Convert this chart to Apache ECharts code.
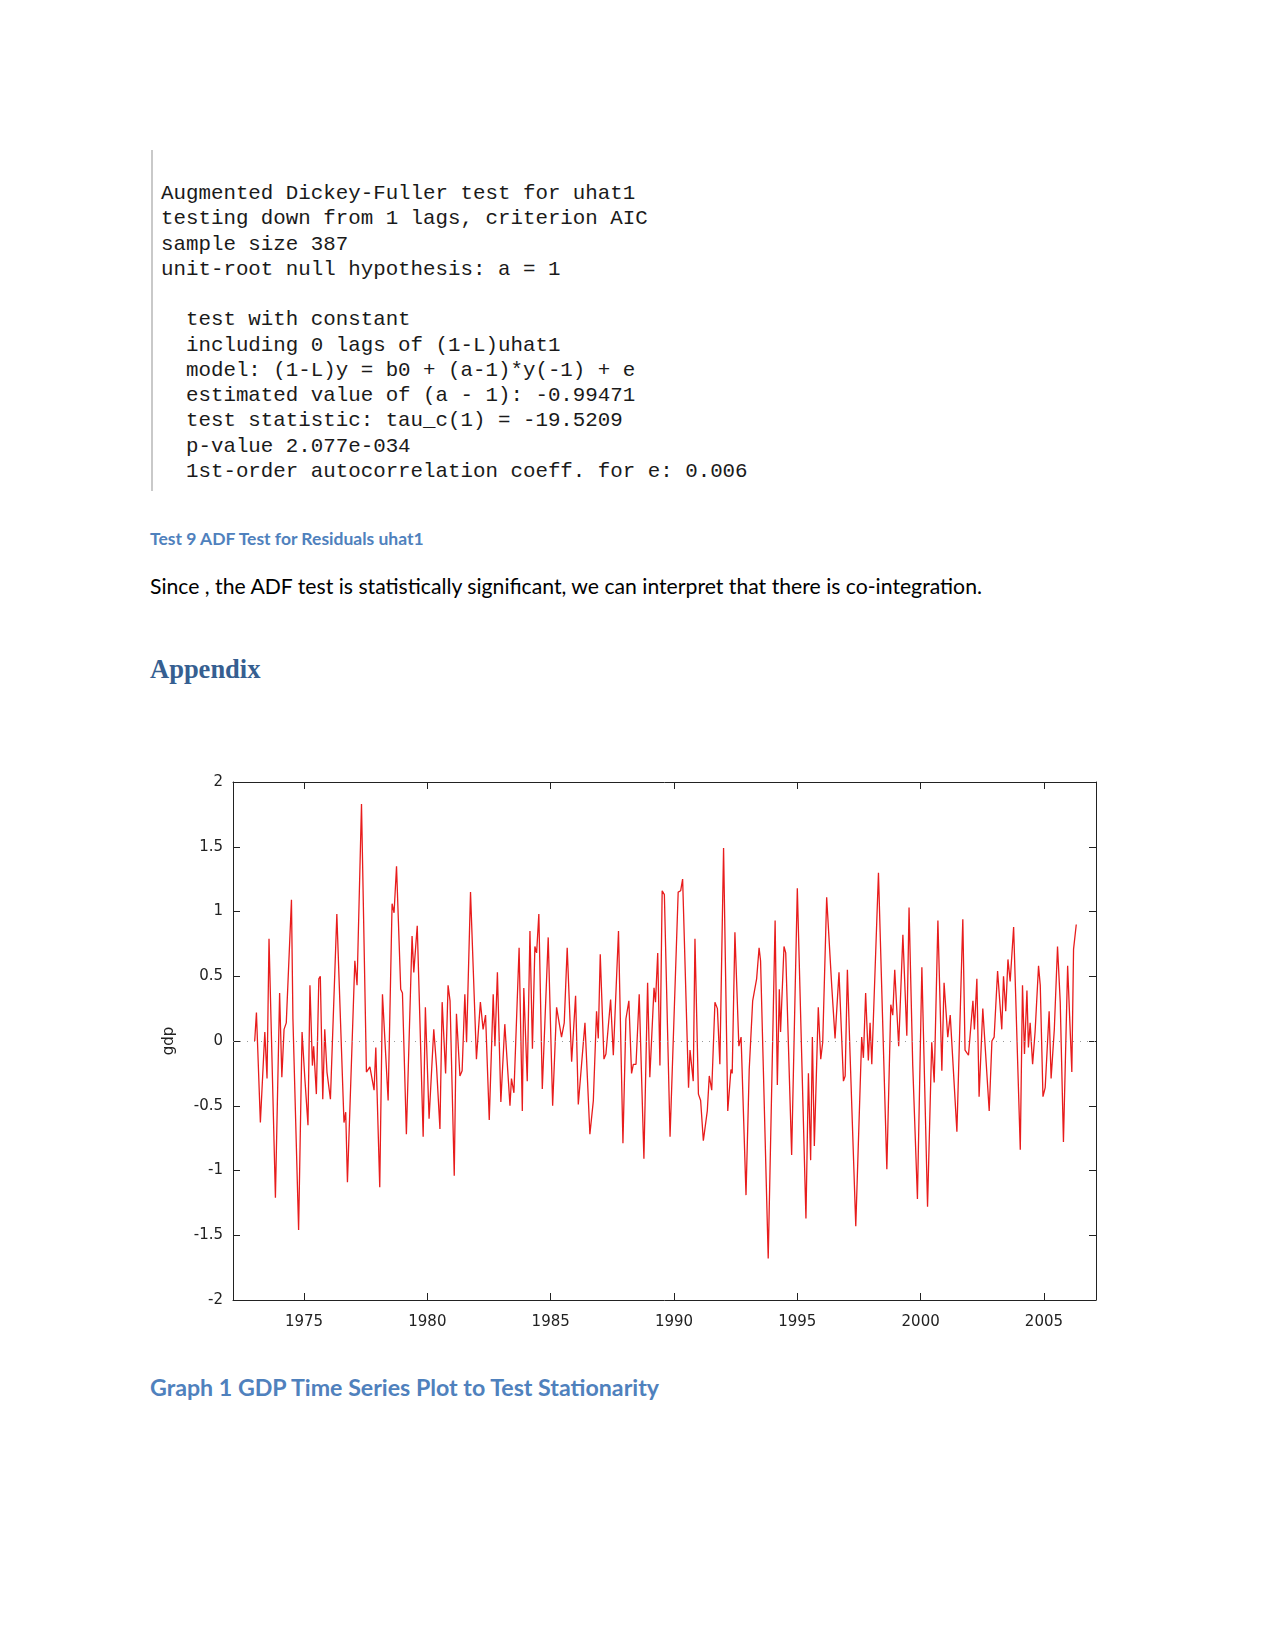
<!DOCTYPE html>
<html><head><meta charset="utf-8">
<script src="https://cdn.jsdelivr.net/npm/echarts@6/dist/echarts.min.js"></script>
<style>
html,body{margin:0;padding:0;background:#fff;width:1275px;height:1650px;overflow:hidden;}
.t{position:absolute;white-space:pre;margin:0;}
#bar{position:absolute;left:151px;top:150px;width:2px;height:341px;background:#c9c9c9;}
#code{left:161px;top:181px;font-family:"Liberation Mono",monospace;font-size:20.8px;line-height:25.25px;color:#1a1a1a;}
#cap1{left:150px;top:528px;font-family:Lato,sans-serif;font-weight:bold;font-size:17.5px;line-height:22px;color:#4f81bd;}
#body{left:150px;top:572px;font-family:Lato,sans-serif;font-size:21.2px;line-height:28px;color:#000;}
#appx{left:150px;top:652px;font-family:"Liberation Serif",serif;font-weight:bold;font-size:26.5px;line-height:34px;color:#365f91;}
#cap2{left:150px;top:1372px;font-family:Lato,sans-serif;font-weight:bold;font-size:23.2px;line-height:30px;color:#4f81bd;}
#chart{position:absolute;left:0;top:700px;width:1275px;height:660px;}
</style></head><body>
<div id="bar"></div>
<pre class="t" id="code">Augmented Dickey-Fuller test for uhat1
testing down from 1 lags, criterion AIC
sample size 387
unit-root null hypothesis: a = 1

  test with constant
  including 0 lags of (1-L)uhat1
  model: (1-L)y = b0 + (a-1)*y(-1) + e
  estimated value of (a - 1): -0.99471
  test statistic: tau_c(1) = -19.5209
  p-value 2.077e-034
  1st-order autocorrelation coeff. for e: 0.006</pre>
<div class="t" id="cap1">Test 9 ADF Test for Residuals uhat1</div>
<div class="t" id="body">Since , the ADF test is statistically significant, we can interpret that there is co-integration.</div>
<div class="t" id="appx">Appendix</div>
<div id="chart"></div>
<div class="t" id="cap2">Graph 1 GDP Time Series Plot to Test Stationarity</div>
<script>
const years = [
1973.00,1973.07,1973.23,1973.41,1973.50,1973.58,1973.84,1974.01,1974.10,1974.19,
1974.28,1974.49,1974.55,1974.62,1974.78,1974.92,1975.03,1975.16,1975.24,1975.34,
1975.39,1975.50,1975.60,1975.66,1975.76,1975.84,1975.93,1976.07,1976.33,1976.62,
1976.69,1976.76,1977.06,1977.15,1977.33,1977.53,1977.67,1977.84,1977.91,1978.07,
1978.18,1978.41,1978.57,1978.65,1978.75,1978.92,1978.99,1979.15,1979.38,1979.45,
1979.59,1979.83,1979.92,1980.07,1980.26,1980.37,1980.51,1980.60,1980.68,1980.74,
1980.84,1980.92,1981.09,1981.18,1981.32,1981.41,1981.52,1981.59,1981.75,1981.99,
1982.15,1982.26,1982.36,1982.51,1982.67,1982.74,1982.84,1982.98,1983.14,1983.18,
1983.35,1983.41,1983.51,1983.72,1983.85,1983.91,1984.05,1984.16,1984.26,1984.36,
1984.43,1984.52,
1984.66,1984.90,1985.08,1985.24,1985.44,1985.55,1985.62,1985.67,1985.85,1986.01,
1986.12,1986.39,1986.43,1986.59,1986.73,1986.77,1986.86,1986.93,1987.01,1987.16,
1987.24,1987.43,1987.54,1987.75,1987.93,1988.05,1988.17,1988.28,1988.35,1988.46,
1988.59,1988.78,1988.93,1989.02,1989.19,1989.25,1989.34,1989.43,1989.52,1989.61,
1989.84,1990.17,1990.27,1990.35,1990.59,1990.65,1990.71,1990.78,1990.85,1990.99,
1991.08,1991.19,1991.35,1991.43,1991.53,1991.66,1991.76,1991.86,1992.01,1992.18,
1992.31,1992.36,1992.47,1992.54,1992.63,1992.72,1992.92,1993.05,1993.11,1993.19,
1993.35,1993.45,1993.51,1993.58,1993.82,1994.10,1994.19,1994.27,1994.32,1994.46,
1994.53,1994.77,1995.00,1995.35,1995.45,1995.54,1995.61,1995.69,1995.85,1995.95,
1996.03,1996.19,
1996.40,1996.46,1996.53,1996.69,1996.87,1996.94,1997.03,1997.14,1997.37,1997.61,
1997.68,1997.77,1997.88,1997.95,1998.02,1998.29,1998.63,1998.79,1998.87,1998.95,
1999.11,1999.28,1999.44,1999.53,1999.68,1999.87,2000.05,2000.28,2000.45,2000.55,
2000.70,2000.86,2000.95,2001.10,2001.20,2001.47,2001.71,2001.80,2001.94,2002.12,
2002.18,2002.28,2002.37,2002.52,2002.78,2002.89,2002.98,2003.12,2003.29,2003.36,
2003.45,2003.54,2003.63,2003.77,2004.04,2004.13,2004.21,2004.31,2004.37,2004.44,
2004.54,2004.64,2004.78,2004.85,2004.96,2005.05,2005.21,2005.29,2005.42,2005.55,
2005.66,2005.79,2005.96,2006.13,2006.20,2006.31
];
const gdp = [
0.00,0.22,-0.63,0.07,-0.29,0.79,-1.21,0.37,-0.28,0.09,
0.14,1.09,0.17,0.18,-1.46,0.07,-0.28,-0.65,0.43,-0.19,
-0.04,-0.41,0.48,0.50,-0.45,0.09,-0.24,-0.45,0.98,-0.63,
-0.55,-1.09,0.62,0.43,1.83,-0.24,-0.20,-0.38,-0.05,-1.13,
0.36,-0.46,1.06,0.99,1.35,0.40,0.37,-0.72,0.81,0.53,
0.89,-0.74,0.26,-0.60,0.09,-0.19,-0.68,0.30,0.30,-0.25,
0.43,0.31,-1.04,0.21,-0.27,-0.23,0.36,-0.01,1.15,-0.14,
0.30,0.09,0.20,-0.61,0.36,-0.04,0.53,-0.47,0.13,0.13,
-0.50,-0.29,-0.40,0.72,-0.54,0.41,-0.31,0.85,-0.06,0.73,
0.68,0.98,
-0.37,0.80,-0.50,0.26,0.03,0.14,0.14,0.72,-0.16,0.35,
-0.49,0.14,0.13,-0.72,-0.46,-0.46,0.23,0.02,0.67,-0.14,
-0.10,0.32,-0.11,0.85,-0.79,0.17,0.31,-0.25,-0.18,-0.18,
0.36,-0.91,0.45,-0.28,0.41,0.30,0.68,-0.19,1.16,1.13,
-0.74,1.15,1.16,1.25,-0.36,-0.07,-0.06,-0.31,0.79,-0.41,
-0.46,-0.77,-0.54,-0.27,-0.38,0.30,0.25,-0.18,1.49,-0.54,
-0.22,-0.25,0.84,0.84,-0.04,0.03,-1.19,-0.22,-0.22,0.31,
0.48,0.72,0.62,0.62,-1.68,0.93,-0.34,0.40,0.07,0.73,
0.68,-0.88,1.18,-1.37,-0.25,-0.92,0.03,-0.81,0.26,-0.14,
-0.01,1.11,
0.41,0.40,0.02,0.53,-0.31,-0.27,0.55,-0.11,-1.43,0.03,
-0.13,0.37,-0.15,0.14,-0.18,1.30,-0.99,0.28,0.20,0.55,
-0.04,0.82,0.04,1.03,-0.19,-1.22,0.57,-1.28,-0.01,-0.32,
0.93,-0.23,0.45,0.03,0.20,-0.70,0.94,-0.07,-0.11,0.31,
0.09,0.48,-0.43,0.25,-0.54,0.00,0.03,0.54,0.09,0.50,
0.23,0.63,0.46,0.88,-0.84,0.43,-0.10,0.39,-0.05,0.14,
-0.18,0.07,0.58,0.43,-0.43,-0.36,0.23,-0.29,0.09,0.73,
0.30,-0.78,0.58,-0.24,0.71,0.90
];
const xTickYears = [1975,1980,1985,1990,1995,2000,2005];
const yTicks = [-2,-1.5,-1,-0.5,0,0.5,1,1.5,2];
const yAxisName = 'gdp';

const xMin = 1972.12, xMax = 2007.11;
const axisColor = '#222';
const chart = echarts.init(document.getElementById('chart'), null, {renderer:'canvas'});
const tickStyle = {show:true, inside:true, length:7, lineStyle:{color:axisColor, width:1}};
chart.setOption({
  animation:false,
  grid:{left:233, top:82, width:863, height:518, show:false, containLabel:false},
  textStyle:{fontFamily:'DejaVu Sans'},
  xAxis:[{
    type:'value', min:xMin, max:xMax, position:'bottom',
    axisLine:{show:true, onZero:false, lineStyle:{color:axisColor, width:1}},
    axisTick:Object.assign({customValues:xTickYears}, tickStyle),
    axisLabel:{customValues:xTickYears, margin:15, fontSize:15, color:'#222', fontFamily:'DejaVu Sans',
      formatter:v=>String(Math.round(v))},
    splitLine:{show:false}
  },{
    type:'value', min:xMin, max:xMax, position:'top',
    axisLine:{show:true, onZero:false, lineStyle:{color:axisColor, width:1}},
    axisTick:Object.assign({customValues:xTickYears}, tickStyle),
    axisLabel:{show:false}, splitLine:{show:false}
  }],
  yAxis:[{
    type:'value', min:yTicks[0], max:yTicks[yTicks.length-1], interval:0.5, position:'left',
    name:yAxisName, nameLocation:'middle', nameGap:56, nameRotate:90,
    nameTextStyle:{fontSize:15, color:'#222', fontFamily:'DejaVu Sans'},
    axisLine:{show:true, onZero:false, lineStyle:{color:axisColor, width:1}},
    axisTick:Object.assign({}, tickStyle),
    axisLabel:{margin:10, fontSize:15, color:'#222', fontFamily:'DejaVu Sans', padding:[4,0,0,0]},
    splitLine:{show:false}
  },{
    type:'value', min:yTicks[0], max:yTicks[yTicks.length-1], interval:0.5, position:'right',
    axisLine:{show:true, onZero:false, lineStyle:{color:axisColor, width:1}},
    axisTick:Object.assign({}, tickStyle),
    axisLabel:{show:false}, splitLine:{show:false}
  }],
  series:[{
    type:'line', xAxisIndex:0, yAxisIndex:0,
    data: years.map((y,i)=>[y, gdp[i]]),
    showSymbol:false, symbol:'none', smooth:false,
    lineStyle:{color:'#e81c1c', width:1.3},
    markLine:{silent:true, symbol:'none', label:{show:false},
      lineStyle:{color:'#999', type:[1,6], width:1},
      data:[{yAxis:0}]},
    z:3
  }]
});
</script>
</body></html>
